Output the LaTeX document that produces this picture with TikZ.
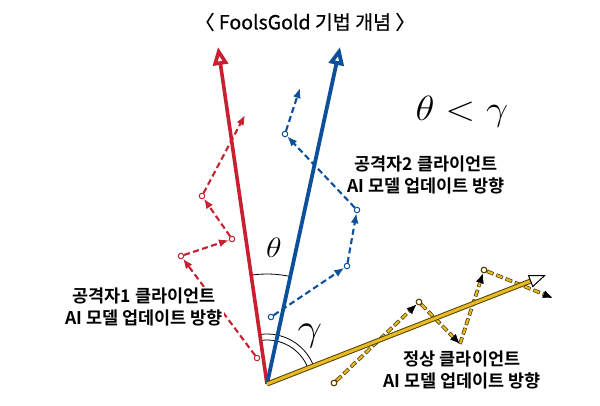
\RequirePackage{fix-cm}
\documentclass[tikz,border=0pt]{standalone}
\usepackage{fontspec}
\setmainfont{Noto Sans CJK KR}
\newfontfamily\krb{Noto Sans CJK KR Bold}
\newfontfamily\krm[FakeBold=0.6]{Noto Sans CJK KR}
\usetikzlibrary{arrows.meta,calc}
\definecolor{redc}{RGB}{200,32,48}
\definecolor{bluec}{RGB}{12,80,155}
\definecolor{goldc}{RGB}{232,186,36}
\definecolor{golddark}{RGB}{85,66,0}
\begin{document}
\begin{tikzpicture}[x=1pt,y=-1pt,
  vtx/.style={circle, draw, fill=white, inner sep=0pt, minimum size=5.5pt, line width=1pt},
  dtip/.style={-{Latex[length=10pt,width=8pt]}},
  rdash/.style={draw=redc, line width=2.1pt, dash pattern=on 6pt off 3.5pt, dtip},
  bdash/.style={draw=bluec, line width=2.1pt, dash pattern=on 6pt off 3.5pt, dtip},
  gdashout/.style={draw=golddark, line width=3.6pt, dash pattern=on 7pt off 3pt, -{Latex[length=10pt,width=8pt,black]}},
  gdashin/.style={draw=goldc, line width=2.1pt, dash pattern=on 5.6pt off 4.4pt, dash phase=9.3pt, -{Latex[length=10pt,width=8pt,black]}},
  lbl/.style={font=\krb\fontsize{17.5}{22}\selectfont, align=center, fill=white, inner sep=1pt},
  anglearc/.style={draw=black, line width=0.8pt}]
\fill[white] (0,0) rectangle (600,405);
\useasboundingbox (0,0) rectangle (600,405);

\node[font=\krm\fontsize{19.5}{22}\selectfont] (title) at (305,22) {〈 FoolsGold 기법 개념 〉};

\coordinate (O) at (267,384);
\coordinate (R) at (218,47);
\coordinate (B) at (340,47);
\coordinate (G) at (546,275);

% red dashed path
\node[vtx, draw=redc] (r1) at (257,358) {};
\node[vtx, draw=redc] (r2) at (181,256) {};
\node[vtx, draw=redc] (r3) at (232,239) {};
\node[vtx, draw=redc] (r4) at (202,196) {};
\coordinate (r5) at (245,115);
\draw[rdash] (r1) -- (r2);
\draw[rdash] (r2) -- (r3);
\draw[rdash] (r3) -- (r4);
\draw[rdash] (r4) -- (r5);

% blue dashed path
\node[vtx, draw=bluec] (b1) at (271,317) {};
\node[vtx, draw=bluec] (b2) at (347,266) {};
\node[vtx, draw=bluec] (b3) at (357,210) {};
\node[vtx, draw=bluec] (b4) at (285,134) {};
\coordinate (b5) at (300,88);
\draw[bdash] (b1) -- (b2);
\draw[bdash] (b2) -- (b3);
\draw[bdash] (b3) -- (b4);
\draw[bdash] (b4) -- (b5);

% gold dashed path
\node[vtx, draw=golddark] (g1) at (334,383) {};
\node[vtx, draw=golddark] (g2) at (419,302) {};
\coordinate (g3) at (460,344);
\node[vtx, draw=golddark] (g4) at (484,270) {};
\coordinate (g5) at (553,298);
\foreach \a/\b in {g1/g2, g2/g3, g3/g4, g4/g5}{
  \draw[gdashout] (\a) -- (\b);
  \draw[gdashin] (\a) -- (\b);
}
\node[vtx, draw=golddark] at (g1) {};
\node[vtx, draw=golddark] at (g2) {};
\node[vtx, draw=golddark] at (g4) {};

% labels
\node[lbl] (lred) at (144,307) {공격자1 클라이언트\\AI 모델 업데이트 방향};
\node[lbl] (lblue) at (426,175) {공격자2 클라이언트\\AI 모델 업데이트 방향};
\node[lbl] (lgold) at (462,370) {정상 클라이언트\\AI 모델 업데이트 방향};

% angle arcs
\draw[anglearc] (O) ++(-98.27:110) arc[start angle=-98.27, end angle=-77.78, radius=110];
\draw[anglearc] (O) ++(-98.27:44) arc[start angle=-98.27, end angle=-21.34, radius=44];
\draw[anglearc] (O) ++(-98.27:50) arc[start angle=-98.27, end angle=-21.34, radius=50];

% main arrows
\draw[redc, line width=3.6pt, -{Triangle[open, length=18pt, width=15pt]}] (O) -- (R);
\draw[bluec, line width=3.8pt, -{Triangle[open, length=18pt, width=15pt]}] (O) -- (B);
\draw[golddark, line width=5pt, shorten >=15pt] (O) -- (G);
\draw[goldc, line width=3pt, shorten >=15.5pt] (O) -- (G);
\draw[black, line width=1pt, -{Triangle[open, fill=white, length=17pt, width=13pt]}] ($(G)!17pt!(O)$) -- (G);

% math labels
\node (theta) at (274,248) {\scalebox{1.15}[1]{\fontsize{28}{30}\selectfont$\theta$}};
\node (gamma) at (310,336) {\scalebox{1.15}[1]{\fontsize{38}{40}\selectfont$\gamma$}};
\node (ineq) at (462,112) {\scalebox{1.12}[1]{\fontsize{35}{40}\selectfont$\theta < \gamma$}};
\end{tikzpicture}
\end{document}
